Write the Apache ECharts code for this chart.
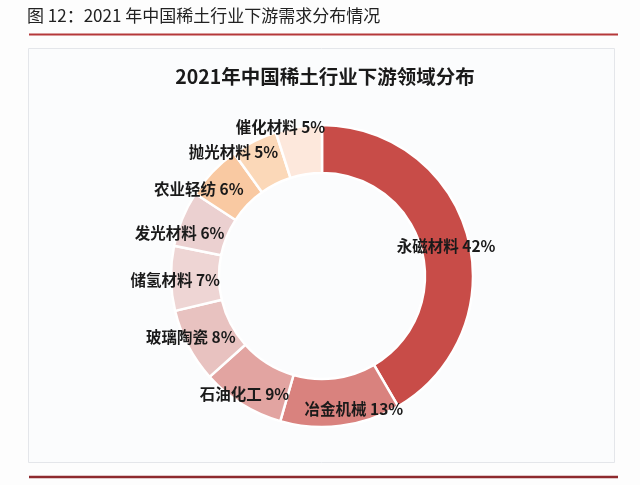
<!DOCTYPE html>
<html>
<head>
<meta charset="utf-8">
<script src="https://cdn.jsdelivr.net/npm/echarts@6/dist/echarts.min.js"></script>
<style>
html,body{margin:0;padding:0;background:#fdfdfd;}
#chart{width:640px;height:485px;}
</style>
</head>
<body>
<div id="chart"></div>
<script>
const headerText = '图 12：2021 年中国稀土行业下游需求分布情况';
const chartTitle = '2021年中国稀土行业下游领域分布';
const categories = ['永磁材料','冶金机械','石油化工','玻璃陶瓷','储氢材料','发光材料','农业轻纺','抛光材料','催化材料'];
const values = [42, 13, 9, 8, 7, 6, 6, 5, 5];
const colors = ['#c84c48','#d9827e','#e2a4a1','#e8c2c0','#eed5d4','#ebd0d0','#f9c9a2','#fbd8b8','#fde8dc'];

const CX = 322, CY = 276;
const chart = echarts.init(document.getElementById('chart'), null, {renderer:'canvas'});
chart.setOption({
  backgroundColor: '#fdfdfd',
  animation: false,
  title: {
    text: chartTitle,
    left: 320, top: 62, textAlign: 'center',
    textStyle: {fontFamily: 'Noto Sans CJK SC', fontSize: 19.5, fontWeight: 'bold', color: '#1a1a1a'}
  },
  graphic: [
    {type:'text', left: 27, top: 7, style:{text: headerText, font: '17px "Noto Sans CJK SC"', fill: '#222'}},
    {type:'line', shape:{x1:29, y1:34.5, x2:618, y2:34.5}, style:{stroke:'#b5383a', lineWidth:2}},
    {type:'rect', shape:{x:28.5, y:48.5, width:586, height:414}, style:{fill:'#fbfcfd', stroke:'#e4e6ea', lineWidth:1}, z:-10},
    {type:'line', shape:{x1:29, y1:477, x2:618, y2:477}, style:{stroke:'#8e2a2e', lineWidth:2.5}}
  ],
  series: [{
    type: 'pie',
    center: [CX, CY],
    radius: [103, 151],
    startAngle: 90,
    clockwise: true,
    avoidLabelOverlap: false,
    itemStyle: {borderColor: '#ffffff', borderWidth: 2.5},
    label: {
      show: true,
      position: 'inside',
      formatter: p => p.name + ' ' + p.value + '%',
      fontFamily: 'Noto Sans CJK SC',
      fontSize: 15.5,
      fontWeight: 'bold',
      color: '#1a1a1a'
    },
    labelLine: {show: false},
    labelLayout: function (params) {
      const r = params.labelRect;
      const lx = r.x + r.width / 2, ly = r.y + r.height / 2;
      const dx = lx - CX, dy = ly - CY;
      // angle measured clockwise from 12 o'clock, in degrees
      let ang = Math.atan2(dx, -dy) * 180 / Math.PI;
      if (ang < 0) ang += 360;
      ang += -3 + 6 * Math.sin(2 * (ang - 190) * Math.PI / 180);
      const lr = 120 + ang * 0.1;
      const rad = ang * Math.PI / 180;
      return {x: CX + Math.sin(rad) * lr, y: CY - Math.cos(rad) * lr};
    },
    emphasis: {disabled: true},
    data: categories.map((c, i) => ({name: c, value: values[i], itemStyle: {color: colors[i]}}))
  }]
});
</script>
</body>
</html>
